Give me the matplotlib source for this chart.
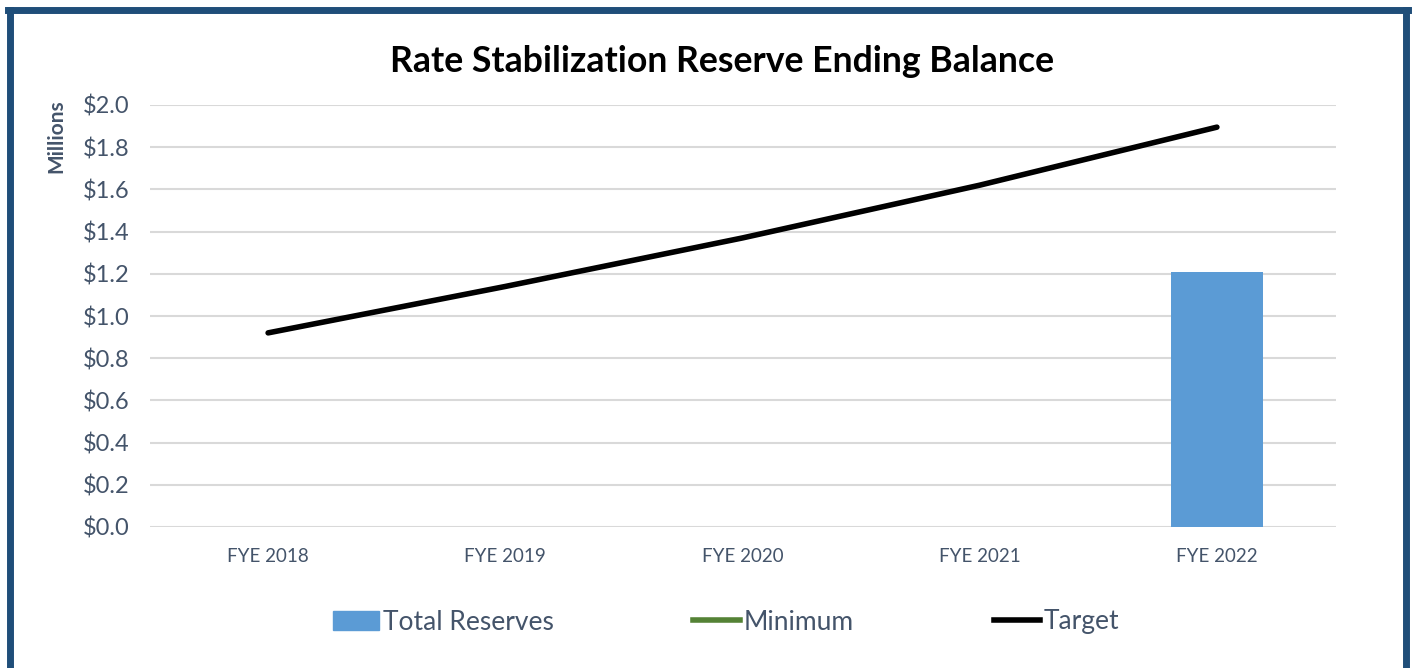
import numpy as np
import matplotlib.pyplot as plt
from matplotlib.lines import Line2D
from matplotlib.patches import Patch

years = ["FYE 2018", "FYE 2019", "FYE 2020", "FYE 2021", "FYE 2022"]
total_reserves = [np.nan, np.nan, np.nan, np.nan, 1.21]
minimum = [np.nan, np.nan, np.nan, np.nan, np.nan]
target = [0.92, 1.14, 1.37, 1.62, 1.895]
yticks = [0.0, 0.2, 0.4, 0.6, 0.8, 1.0, 1.2, 1.4, 1.6, 1.8, 2.0]

plt.rcParams['font.family'] = ['Lato', 'DejaVu Sans']
txt = "#44546A"

fig = plt.figure(figsize=(14.14, 6.68), dpi=100)
ax = fig.add_axes([149.5 / 1414, 1 - 527 / 668, 1186 / 1414, 422 / 668])

x = np.arange(len(years))
ax.bar(x, total_reserves, width=0.39, color="#5B9BD5", zorder=2)
ax.plot(x, minimum, color="#548235", lw=4, zorder=3)
ax.plot(x, target, color="black", lw=4, solid_capstyle="round", zorder=3)

ax.set_xlim(-0.5, len(years) - 0.5)
ax.set_ylim(0, 2.0)
ax.set_yticks(yticks)
ax.set_yticklabels([f"${v:.1f}" for v in yticks], fontsize=17, color=txt)
ax.set_xticks(x)
ax.set_xticklabels(years, fontsize=13.5, color=txt)
ax.tick_params(length=0)
ax.tick_params(axis="y", pad=14.5)
ax.tick_params(axis="x", pad=15)
ax.grid(axis="y", color="#D9D9D9", lw=1.5, zorder=0)
for s in ax.spines.values():
    s.set_visible(False)

fig.text(56 / 1414, 1 - 136 / 668, "Millions", rotation=90, ha="center", va="center",
         fontsize=15, fontweight="bold", color=txt)

fig.text(0.511, 1 - 62 / 668, "Rate Stabilization Reserve Ending Balance",
         ha="center", va="center", fontsize=25.7, fontweight="bold")

handles = [Patch(color="#5B9BD5"),
           Line2D([], [], color="#548235", lw=4),
           Line2D([], [], color="black", lw=4)]
fig.legend(handles, ["Total Reserves", "Minimum", "Target"], loc="center",
           bbox_to_anchor=(726 / 1414, 1 - 622 / 668), ncol=3, frameon=False,
           fontsize=19, labelcolor=txt, columnspacing=5.3, handlelength=1.75,
           handletextpad=0.15)

# dark blue frame
c = "#1F4E79"
fig.add_artist(Line2D([10 / 1414, 10 / 1414], [0, 1 - 10 / 668], color=c, lw=5))
fig.add_artist(Line2D([1406 / 1414, 1406 / 1414], [0, 1 - 10 / 668], color=c, lw=5))
fig.add_artist(Line2D([8 / 1414, 1408 / 1414], [1 - 10 / 668, 1 - 10 / 668], color=c, lw=5))

fig.savefig("out.png", dpi=100)
